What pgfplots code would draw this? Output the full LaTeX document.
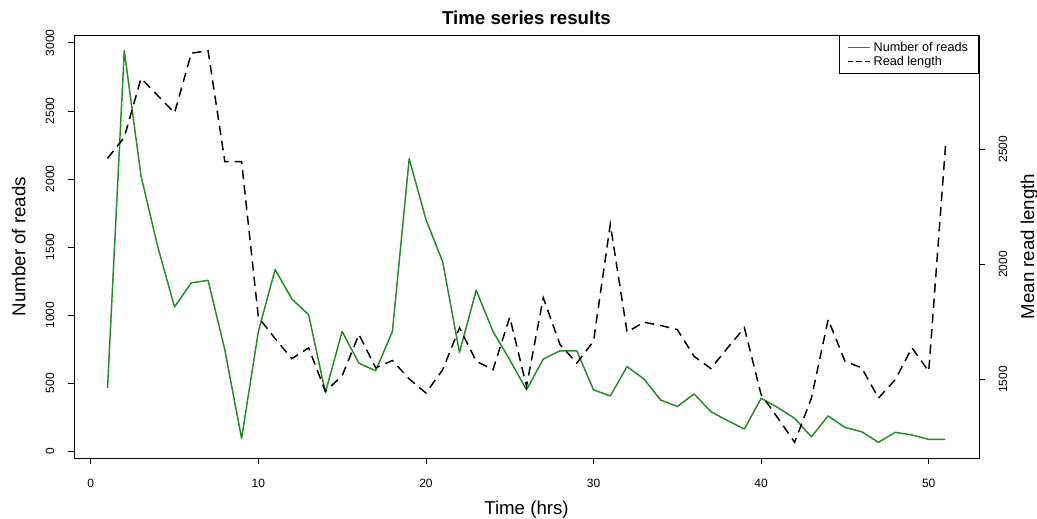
\documentclass[border=0pt]{standalone}
\usepackage{pgfplots}
\pgfplotsset{compat=1.18}
\usepackage{pgfplotstable}
\usepackage{fontspec}
\setmainfont{Liberation Sans}
\definecolor{forestgreen}{HTML}{228B22}

% hour, number of reads
\pgfplotstableread{
t reads
1 462
2 2943
3 2021
4 1500
5 1060
6 1236
7 1255
8 744
9 93
10 879
11 1334
12 1118
13 1002
14 430
15 879
16 646
17 590
18 879
19 2149
20 1702
21 1390
22 725
23 1182
24 879
25 671
26 450
27 676
28 737
29 737
30 450
31 405
32 621
33 531
34 376
35 327
36 420
37 290
38 223
39 162
40 388
41 319
42 241
43 105
44 258
45 174
46 142
47 64
48 138
49 118
50 86
51 86
}\reads

% hour, mean read length
\pgfplotstableread{
t len
1 2460
2 2551
3 2807
4 2732
5 2657
6 2916
7 2927
8 2446
9 2446
10 1771
11 1678
12 1591
13 1638
14 1449
15 1517
16 1696
17 1551
18 1583
19 1503
20 1442
21 1543
22 1725
23 1580
24 1543
25 1771
26 1471
27 1855
28 1652
29 1572
30 1667
31 2174
32 1706
33 1749
34 1735
35 1717
36 1601
37 1548
38 1638
39 1725
40 1435
41 1333
42 1228
43 1420
44 1761
45 1580
46 1551
47 1420
48 1500
49 1638
50 1536
51 2514
}\lens

\pgfplotsset{
  base/.style={
    width=678.75pt, height=317.25pt, scale only axis,
    at={(0,0)}, anchor=south west,
    xmin=-1, xmax=53,
    tick align=outside,
    major tick length=4.5pt,
    axis line style={line width=0.6pt},
    every tick/.style={black, line width=0.6pt},
    tick label style={font=\fontsize{9}{10}\selectfont},
    label style={font=\fontsize{14}{16}\selectfont},
    /pgf/number format/assume math mode=true,
    /pgf/number format/set thousands separator={},
    scaled y ticks=false,
    yticklabel style={rotate=90, anchor=center},
  },
}

\begin{document}
\begin{tikzpicture}
\begin{axis}[base,
  ymin=-51, ymax=3058,
  xtick={0,10,20,30,40,50},
  ytick={0,500,1000,1500,2000,2500,3000},
  xtick pos=lower, ytick pos=left,
  yticklabel shift=13.5pt,
  xticklabel shift=7.5pt,
  xlabel={Time (hrs)},
  ylabel={Number of reads},
  xlabel style={at={(axis description cs:0.5,0)}, anchor=center, yshift=-38.5pt},
  ylabel style={at={(axis description cs:-0.061,0.5)}, anchor=center},
  title={Time series results},
  title style={at={(axis description cs:0.5,1)}, anchor=center, yshift=7pt,
    font=\fontsize{14}{16}\selectfont\bfseries},
]
\addplot[forestgreen, line width=1.1pt, line join=round] table[x=t, y=reads] {\reads};
\end{axis}
\begin{axis}[base,
  ymin=1160, ymax=2995,
  axis x line=none,
  axis y line*=right,
  ytick={1500,2000,2500},
  ytick pos=right,
  yticklabel shift=13.5pt,
  ylabel={Mean read length},
  ylabel style={at={(axis description cs:1.0555,0.5)}, anchor=center},
  legend style={at={(rel axis cs:1,1)}, anchor=north east, draw=black,
    line width=0.6pt, font=\fontsize{9.5}{10.5}\selectfont,
    inner xsep=6pt, inner ysep=3pt, row sep=-2pt,
    /tikz/every even column/.append style={column sep=6pt}},
  legend cell align=left,
  legend image code/.code={\draw[#1] (0cm,0cm) -- (17pt,0cm);},
]
\addlegendimage{forestgreen, line width=0.8pt}
\addlegendentry{Number of reads}
\addlegendimage{black, line width=0.8pt, dash pattern=on 4pt off 2.5pt}
\addlegendentry{Read length}
\addplot[black, line width=1.1pt, dash pattern=on 7pt off 4.5pt, forget plot] table[x=t, y=len] {\lens};
\end{axis}
\pgfresetboundingbox
\path[use as bounding box] (-55.5pt,-45pt) rectangle (722.25pt,343.5pt);
\end{tikzpicture}
\end{document}
